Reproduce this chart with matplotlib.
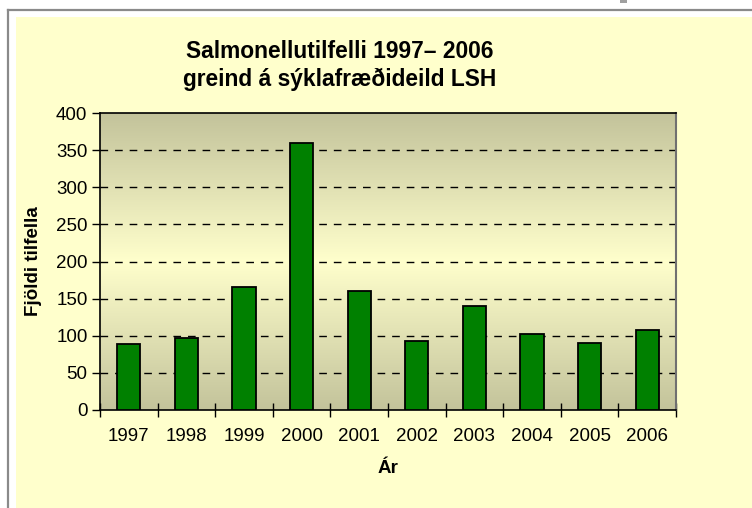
import numpy as np
import matplotlib
matplotlib.use('Agg')
import matplotlib.pyplot as plt
from matplotlib.colors import LinearSegmentedColormap
from matplotlib.patches import Rectangle
from matplotlib.lines import Line2D

plt.rcParams['font.family'] = ['Liberation Sans', 'DejaVu Sans']

years = ['1997', '1998', '1999', '2000', '2001', '2002', '2003', '2004', '2005', '2006']
cases = [89, 97, 166, 360, 160, 93, 140, 102, 90, 108]
yticks = [0, 50, 100, 150, 200, 250, 300, 350, 400]

W, H = 752, 508
fig = plt.figure(figsize=(W / 100, H / 100), dpi=100)
fig.patch.set_facecolor('white')

# outer slide frame and yellow chart area
fig.patches.append(Rectangle((16 / W, 0), 1 - 16 / W, 1 - 17 / H, transform=fig.transFigure,
                             facecolor='#FFFFCC', edgecolor='none', zorder=-5))
fig.lines.append(Line2D([8 / W, 1], [1 - 10 / H, 1 - 10 / H], transform=fig.transFigure,
                        color='#8a8a8a', lw=1.6, zorder=-4))
fig.lines.append(Line2D([8 / W, 8 / W], [0, 1 - 10 / H], transform=fig.transFigure,
                        color='#8a8a8a', lw=1.6, zorder=-4))
fig.patches.append(Rectangle((620 / W, 1 - 3 / H), 7 / W, 3 / H, transform=fig.transFigure,
                             facecolor='#a0a0a0', edgecolor='none', zorder=-4))

ax = fig.add_axes([100 / W, 98 / H, 576 / W, 297 / H])
ax.patch.set_alpha(0)
x = np.arange(len(years))

# vertical gradient dark-light-dark behind bars
cmap = LinearSegmentedColormap.from_list('g', ['#C3C39B', '#FFFFCC', '#C3C39B'])
grad = np.linspace(0, 1, 256).reshape(-1, 1)
ax.imshow(grad, aspect='auto', cmap=cmap, extent=[-0.5, 9.5, 0, 400], zorder=0)

ax.bar(x, cases, width=0.4, color='#008000', edgecolor='black', linewidth=1.3, zorder=3)

ax.set_xlim(-0.5, 9.5)
ax.set_ylim(0, 400)
ax.set_yticks(yticks)
ax.set_xticks(x)
ax.set_xticklabels(years)
ax.set_xticks(np.arange(-0.5, 10, 1), minor=True)
ax.tick_params(axis='x', which='major', length=0, labelsize=13.5, pad=13)
ax.tick_params(axis='x', which='minor', direction='inout', length=10, width=1)
ax.tick_params(axis='y', direction='out', length=6, width=1, labelsize=13.5, pad=3)

for v in yticks[1:-1]:
    ax.axhline(v, color='black', lw=1, dashes=(5.5, 5), zorder=2)

for s in ['left', 'bottom', 'top']:
    ax.spines[s].set_color('black')
    ax.spines[s].set_linewidth(1.2)
ax.spines['right'].set_color('#707070')
ax.spines['right'].set_linewidth(1.5)

ax.set_xlabel('Ár', fontsize=13.5, fontweight='bold', labelpad=11)
ax.set_ylabel('Fjöldi tilfella', fontsize=13.5, fontweight='bold', labelpad=10)

fig.text(340 / W, 1 - 58 / H, 'Salmonellutilfelli 1997– 2006', ha='center', va='baseline',
         fontsize=16.4, fontweight='bold')
fig.text(340 / W, 1 - 86 / H, 'greind á sýklafræðideild LSH', ha='center', va='baseline',
         fontsize=16.4, fontweight='bold')

fig.savefig('out.png', dpi=100, facecolor=fig.get_facecolor())
